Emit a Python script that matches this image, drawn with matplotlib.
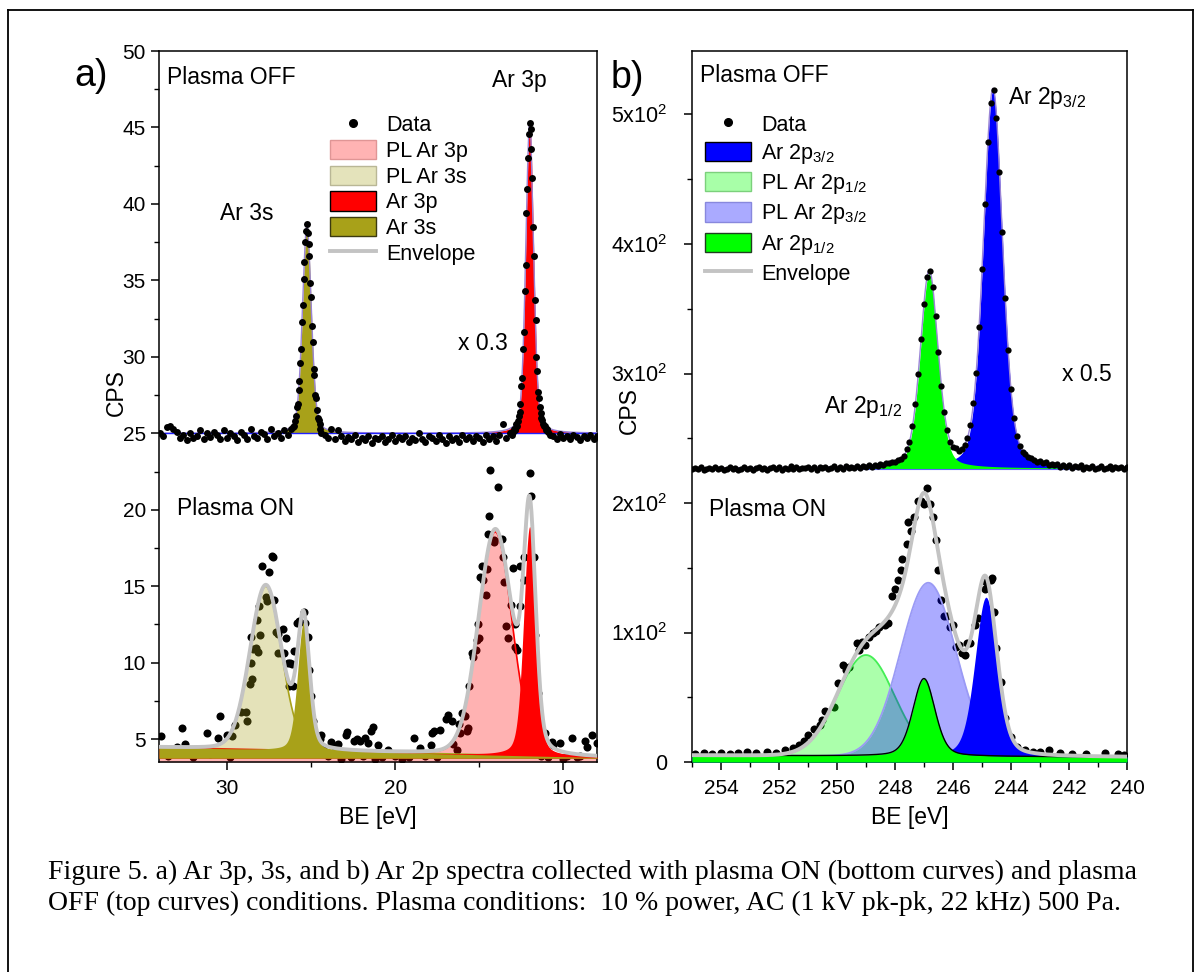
import numpy as np
import matplotlib.pyplot as plt
from matplotlib.lines import Line2D
from matplotlib.patches import Patch
from matplotlib.ticker import MultipleLocator, FixedLocator, FixedFormatter

plt.rcParams['font.family'] = ['Liberation Sans', 'DejaVu Sans']
plt.rcParams['mathtext.fontset'] = 'custom'
plt.rcParams['mathtext.rm'] = 'Liberation Sans'
plt.rcParams['mathtext.it'] = 'Liberation Sans:italic'
plt.rcParams['mathtext.bf'] = 'Liberation Sans:bold'

# ---------------- panel a) Ar 3p / 3s ----------------
# plasma OFF data (BE in eV, CPS shifted / scaled as plotted)
a_off_x1 = np.round(np.arange(8.0, 10.81, 0.2), 2)
a_off_y1 = [24.8, 24.6, 24.9, 24.7, 24.85, 24.55, 24.75, 24.9, 24.65, 24.8,
            24.7, 24.95, 24.6, 24.8, 24.9]
a_off_x2 = np.round(np.arange(10.9, 13.11, 0.05), 2)
a_off_y2 = [25.1, 25.2, 25.3, 25.2, 25.45, 25.5, 25.6, 25.9, 26.0, 26.3,
            26.7, 27.3, 27.7, 29.1, 30.0, 32.4, 33.7, 36.6, 38.5, 41.7,
            43.6, 44.9, 45.3, 44.6, 43.0, 41.0, 39.4, 36.0, 34.3, 31.6,
            30.5, 28.6, 28.1, 26.9, 26.4, 26.1, 25.8, 25.5, 25.6, 25.3,
            25.2, 25.3, 25.1, 24.9, 25.0]
a_off_x3 = np.round(np.arange(13.2, 24.41, 0.2), 2)
a_off_y3 = [25.0, 24.7, 25.6, 24.9, 24.5, 24.8, 24.6, 24.9, 24.4, 24.7,
            24.85, 24.5, 24.75, 24.6, 24.9, 24.4, 24.7, 24.55, 24.8, 24.35,
            24.65, 24.9, 24.5, 24.7, 24.85, 24.45, 24.6, 25.0, 24.55, 24.7,
            24.4, 24.8, 24.6, 24.75, 24.5, 24.9, 24.65, 24.45, 24.8, 24.6,
            24.7, 24.35, 24.85, 24.55, 24.7, 24.45, 24.9, 24.6, 24.75, 24.5,
            24.8, 25.2, 24.65, 25.3, 24.7, 24.9, 25.05]
a_off_x4 = np.round(np.arange(24.45, 26.06, 0.05), 2)
a_off_y4 = [25.3, 25.6, 25.9, 26.0, 26.5, 27.3, 27.5, 28.8, 29.2, 31.0,
            32.0, 33.9, 34.8, 36.6, 37.4, 38.1, 38.7, 38.2, 37.5, 36.2,
            35.1, 33.4, 32.3, 30.5, 29.6, 28.4, 27.8, 26.9, 26.7, 26.1,
            25.8, 25.5, 25.4]
a_off_x5 = np.round(np.arange(26.2, 34.01, 0.2), 2)
a_off_y5 = [25.3, 24.9, 25.2, 24.7, 25.0, 24.8, 25.25, 24.6, 24.95, 25.1,
            24.7, 24.85, 25.3, 24.65, 24.9, 25.1, 24.55, 24.8, 25.0, 24.7,
            25.2, 24.6, 24.9, 25.1, 24.75, 25.0, 24.6, 25.2, 24.85, 24.7,
            25.05, 24.55, 24.9, 24.7, 25.1, 25.3, 25.45, 25.4, 24.8, 25.0]

# plasma ON data
a_on_x = [33.9, 33.5, 33.0, 32.7, 32.5, 32.0, 31.2, 31.0, 30.55, 30.4, 30.2, 30.0,
          29.8, 29.7, 29.5, 29.2, 28.9, 28.8, 28.65, 28.6, 28.55, 28.5, 28.45,
          28.3, 28.2, 28.15, 28.1, 28.05, 27.9, 27.7, 27.65, 27.5, 27.3, 27.25,
          27.2, 27.1, 27.0, 26.95, 26.8, 26.7, 26.6, 26.5, 26.4, 26.3, 26.25,
          26.15, 26.1, 26.0, 25.85, 25.75, 25.45, 25.35, 25.2, 25.1, 25.0, 24.9,
          24.5, 24.4, 24.3, 24.0, 23.8, 23.6, 23.4, 23.2, 22.95, 22.85, 22.6,
          22.45, 22.3, 22.1, 21.9, 21.8, 21.6, 21.45, 21.3, 21.2, 21.0, 20.8,
          20.4, 20.0, 19.6, 19.2, 18.9, 18.5, 18.2, 17.85, 17.8, 17.7, 17.5,
          17.35, 17.0, 16.85, 16.6, 16.55, 16.3, 16.2, 16.15, 16.05, 15.85,
          15.75, 15.7, 15.6, 15.45, 15.4, 15.2, 15.15, 15.1, 15.0, 14.95, 14.85,
          14.8, 14.6, 14.55, 14.5, 14.4, 14.37, 14.15, 14.1, 13.9, 13.65, 13.6,
          13.5, 13.4, 13.3, 13.1, 13.0, 12.9, 12.85, 12.75, 12.6, 12.58, 12.35,
          12.33, 12.0, 11.9, 11.74, 11.7, 11.5, 11.3, 11.1, 10.9, 10.7, 10.6,
          10.2, 10.0, 9.8, 9.5, 9.2, 9.0, 8.7, 8.6, 8.3, 8.0]
a_on_y = [5.2, 3.9, 4.5, 5.7, 4.7, 3.8, 5.4, 4.0, 5.1, 6.5, 4.1, 5.3,
          3.8, 5.2, 5.9, 6.8, 6.8, 6.2, 8.6, 11.7, 10.0, 8.9, 10.9,
          10.95, 12.8, 10.7, 13.7, 11.8, 16.3, 14.3, 14.0, 15.95, 16.95, 16.9,
          14.1, 12.0, 11.9, 10.6, 10.65, 12.2, 10.6, 11.6, 10.0, 8.5, 10.0,
          9.9, 8.5, 10.75, 12.6, 12.7, 13.3, 12.6, 11.7, 9.5, 7.8, 6.2,
          5.0, 5.25, 4.5, 3.9, 4.8, 4.5, 4.7, 3.7, 5.3, 5.45, 3.8,
          4.9, 5.0, 4.85, 3.9, 5.1, 4.75, 5.5, 5.8, 3.7, 4.6, 3.8,
          4.3, 3.9, 3.7, 3.8, 5.1, 4.4, 3.9, 4.6, 5.4, 5.5, 3.8,
          5.6, 6.3, 6.6, 6.2, 4.7, 4.3, 6.0, 5.4, 6.7, 6.5,
          5.5, 5.7, 8.5, 10.6, 10.4, 10.8, 11.5, 12.5, 11.6, 15.6, 16.3,
          15.4, 14.4, 16.1, 18.4, 19.6, 22.6, 18.0, 17.9, 21.5, 18.1, 16.9,
          15.3, 12.4, 11.6, 13.8, 16.2, 11.0, 12.5, 10.8, 16.3, 13.7, 15.4,
          16.9, 22.4, 20.9, 16.9, 11.8, 8.0, 3.9, 5.4, 3.8, 4.8, 4.6,
          4.75, 3.7, 3.9, 5.1, 3.8, 3.9, 4.9, 4.5, 5.3, 4.75]

# fitted components: (centre eV, height, FWHM eV, Lorentzian fraction)
a_off_base = 25.0
a_off_3p = (12.0, 20.3, 0.55, 0.3)
a_off_3s = (25.25, 13.6, 0.62, 0.3)
a_on_base = (3.8, 4.45)          # background at 8 eV and 34 eV
a_on_pl3p = (14.05, 14.6, 2.35, 0.1)
a_on_pl3s = (27.7, 10.7, 2.2, 0.1)
a_on_3p = (12.0, 15.0, 0.85, 0.3)
a_on_3s = (25.45, 8.4, 0.85, 0.3)

# ---------------- panel b) Ar 2p ----------------
b_off_x = np.round(np.linspace(240.0, 255.0, 151), 2)
b_off_y = [227.5, 226.0, 228.2, 226.8, 227.9, 225.9, 228.4, 227.1, 226.3, 228.6,
           227.4, 226.5, 228.8, 227.0, 228.2, 226.6, 229.0, 227.6, 228.5, 226.9,
           229.3, 228.0, 229.6, 228.1, 230.2, 229.0, 230.4, 229.6, 231.8, 231.0,
           232.6, 232.0, 233.5, 234.6, 235.8, 237.5, 239.5, 244.0, 252.0, 265.5,
           288.0, 318.5, 358.0, 409.0, 455.5, 497.0, 519.0, 509.0, 478.5, 431.0,
           381.0, 336.0, 300.5, 277.0, 260.5, 250.0, 245.0, 242.0, 240.5, 242.5,
           243.0, 247.5, 256.5, 270.5, 290.0, 316.5, 344.5, 367.0, 379.0, 374.5,
           353.5, 327.0, 299.5, 276.5, 259.5, 247.0, 241.5, 236.0, 234.0, 233.5,
           232.0, 231.8, 230.6, 230.9, 229.4, 230.0, 228.7, 229.5, 228.0, 229.1,
           227.6, 228.9, 227.3, 228.5, 226.8, 228.2, 227.0, 228.6, 226.6, 227.9,
           226.4, 228.3, 227.1, 226.2, 228.0, 226.9, 227.7, 225.8, 227.5, 226.4,
           228.1, 226.7, 227.3, 225.9, 227.8, 226.5, 228.4, 226.1, 227.2, 225.7,
           227.6, 226.3, 228.0, 226.8, 225.6, 227.4, 226.2, 228.1, 226.7, 225.8,
           227.3, 226.0, 227.9, 226.4, 225.5, 227.2, 226.1, 228.0, 226.6, 225.7,
           227.0, 226.2, 227.8, 225.9, 227.1, 226.4, 225.6, 227.5, 226.3, 227.2,
           226.0]

b_on_x = [254.9, 254.6, 254.3, 254.0, 253.7, 253.4, 253.1, 252.8, 252.4, 252.1,
          251.8, 251.5, 251.3, 251.15, 251.0, 250.8, 250.6, 250.5, 250.4, 250.1,
          249.95, 249.8, 249.7, 249.6, 249.3, 249.25, 249.15, 249.05, 248.9, 248.75,
          248.65, 248.55, 248.35, 248.25, 248.1, 248.0, 247.9, 247.8, 247.75, 247.6,
          247.55, 247.45, 247.35, 247.2, 247.1, 247.0, 246.9, 246.8, 246.7, 246.6,
          246.5, 246.4, 246.3, 246.2, 246.1, 246.0, 245.9, 245.8, 245.7, 245.6,
          245.5, 245.4, 245.25, 245.15, 244.9, 244.85, 244.7, 244.65, 244.6, 244.5,
          244.35, 244.2, 244.0, 243.8, 243.5, 243.25, 243.0, 242.7, 242.3, 241.9,
          241.4, 240.75, 240.3, 240.1]
b_on_y = [6, 7, 6, 7, 6, 7, 8, 7, 8, 7,
          9, 11, 13, 16.5, 21, 25.5, 28.6, 32.4, 39.6, 42.5,
          61, 75, 71, 73.6, 92, 86.5, 93, 90, 96.8, 99.5,
          101, 104, 105.5, 107, 128, 133.6, 140.5, 148, 156.4, 168.3,
          185.5, 178.6, 189, 201.8, 201.8, 199, 211.3, 199, 189, 171.4,
          148, 125, 113, 113, 104.5, 106, 89, 90.6, 84.4, 82.8,
          91.9, 91.9, 105.8, 111, 134, 139, 140.5, 142, 116, 87.8,
          62, 34, 19, 12, 9, 8, 8, 9.3, 7, 6.5,
          6, 7, 6.5, 5.5]

b_off_base = 227.0
b_off_32 = (244.62, 292.0, 0.78, 0.3)
b_off_12 = (246.82, 150.0, 0.72, 0.3)
b_on_base = (3.8, 5.2)           # background at 240 eV and 255 eV
b_on_32 = (244.86, 123.0, 0.9, 0.3)
b_on_12 = (247.0, 60.0, 0.9, 0.3)
b_on_pl32 = (246.85, 134.0, 2.25, 0.0)
b_on_pl12 = (249.0, 78.0, 2.3, 0.0)

b_yticks = [0, 100, 200, 300, 400, 500]
b_ylabels = ['0', r'1x10$^{2}$', r'2x10$^{2}$', r'3x10$^{2}$', r'4x10$^{2}$', r'5x10$^{2}$']

OLIVE = '#a8a119'
GREY = '#c3c3c3'
FIT = '#9a84d6'
FS = 16.5     # annotation text
TS = 15       # tick labels
LS = 15.5     # legend


def peak(x, p):
    c, h, w, eta = p
    d = (x - c) / w
    return h * (eta / (1 + 4 * d ** 2) + (1 - eta) * np.exp(-4 * np.log(2) * d ** 2))


fig = plt.figure(figsize=(11.98, 9.72), dpi=100)

# outer frame of the figure box
for xs, ys in [([0.0067, 0.0067], [0.0, 0.9897]), ([0.0067, 0.996], [0.9897, 0.9897]),
               ([0.996, 0.996], [0.9897, 0.0])]:
    fig.add_artist(Line2D(xs, ys, transform=fig.transFigure, color='k', lw=1.3))

# ---- axes a
ax = fig.add_axes([0.1327, 0.216, 0.3656, 0.7315])
xa = np.linspace(8.0, 34.05, 2500)
bg = np.interp(xa, [8.0, 34.05], list(a_on_base))

ax.plot(a_on_x, a_on_y, 'o', color='k', ms=5.8, mew=0, zorder=1)
c_pl3p = bg + peak(xa, a_on_pl3p)
c_pl3s = bg + peak(xa, a_on_pl3s)
c_3p = bg + peak(xa, a_on_3p)
c_3s = bg + peak(xa, a_on_3s)
ax.fill_between(xa, 3.5, c_pl3p, color='red', alpha=0.3, lw=0, zorder=2)
ax.plot(xa, c_pl3p, color='red', lw=1.2, zorder=2)
ax.fill_between(xa, 3.75, c_pl3s, color=OLIVE, alpha=0.3, lw=0, zorder=2)
ax.plot(xa, c_pl3s, color=OLIVE, lw=1.2, zorder=2)
ax.fill_between(xa, 3.75, c_3p, color='red', lw=0, zorder=3)
ax.fill_between(xa, 3.75, c_3s, color=OLIVE, lw=0, zorder=3)
env = bg + peak(xa, a_on_pl3p) + peak(xa, a_on_pl3s) + peak(xa, a_on_3p) + peak(xa, a_on_3s)
ax.plot(xa, env, color=GREY, lw=2.8, zorder=4)

off_3p = a_off_base + peak(xa, a_off_3p)
off_3s = a_off_base + peak(xa, a_off_3s)
ax.fill_between(xa, a_off_base, off_3p, color='red', lw=0, zorder=3)
ax.fill_between(xa, a_off_base, off_3s, color=OLIVE, lw=0, zorder=3)
ax.plot(xa, a_off_base + peak(xa, a_off_3p) + peak(xa, a_off_3s), color=FIT, lw=1.0, zorder=4)
ax.axhline(a_off_base, color='#2020ff', lw=1.0, zorder=4)
for xs, ys in [(a_off_x1, a_off_y1), (a_off_x2, a_off_y2), (a_off_x3, a_off_y3),
               (a_off_x4, a_off_y4), (a_off_x5, a_off_y5)]:
    ax.plot(xs, ys, 'o', color='k', ms=5, mew=0, zorder=5)

ax.set_xlim(34.05, 8.0)
ax.set_ylim(3.5, 50)
ax.xaxis.set_major_locator(MultipleLocator(10))
ax.xaxis.set_minor_locator(MultipleLocator(5))
ax.yaxis.set_major_locator(MultipleLocator(5))
ax.yaxis.set_minor_locator(MultipleLocator(2.5))
ax.set_xlabel('BE [eV]', fontsize=FS, labelpad=6)
ax.set_ylabel('CPS', fontsize=FS)
ax.yaxis.set_label_coords(-0.072, 0.52)

ax.text(33.6, 48.3, 'Plasma OFF', fontsize=FS, va='center')
ax.text(33.0, 20.1, 'Plasma ON', fontsize=FS, va='center')
ax.text(12.6, 48.1, 'Ar 3p', fontsize=FS, ha='center', va='center')
ax.text(28.8, 39.4, 'Ar 3s', fontsize=FS, ha='center', va='center')
ax.text(14.8, 30.9, 'x 0.3', fontsize=FS, ha='center', va='center')
fig.text(0.062, 0.922, 'a)', fontsize=27, va='center')

hl = [Line2D([], [], marker='o', ls='none', color='k', ms=5.5, label='Data'),
      Patch(facecolor='#ffb3b3', edgecolor='#e09595', label='PL Ar 3p'),
      Patch(facecolor='#e4e3bb', edgecolor='#b9b796', label='PL Ar 3s'),
      Patch(facecolor='red', edgecolor='k', label='Ar 3p'),
      Patch(facecolor=OLIVE, edgecolor='#3c3a10', label='Ar 3s'),
      Line2D([], [], color=GREY, lw=2.8, label='Envelope')]
ax.legend(handles=hl, loc='upper left', bbox_to_anchor=(0.39, 0.911), frameon=False,
          fontsize=LS, handlelength=2.15, handleheight=1.0, labelspacing=0.17,
          handletextpad=0.45, borderaxespad=0, borderpad=0)

# ---- axes b
bx = fig.add_axes([0.5776, 0.216, 0.3631, 0.7315])
xb = np.linspace(240.0, 255.0, 2500)
bgb = np.interp(xb, [240.0, 255.0], list(b_on_base))

bx.plot(b_on_x, b_on_y, 'o', color='k', ms=5.8, mew=0, zorder=1)
c_pl12 = bgb + peak(xb, b_on_pl12)
c_pl32 = bgb + peak(xb, b_on_pl32)
c_32 = bgb + peak(xb, b_on_32)
c_12 = bgb + peak(xb, b_on_12)
bx.fill_between(xb, 0, c_pl12, color='#00ff00', alpha=0.33, lw=0, zorder=2)
bx.plot(xb, c_pl12, color='#44ee55', lw=1.3, zorder=2)
bx.fill_between(xb, 0, c_pl32, color='#0000ff', alpha=0.33, lw=0, zorder=2)
bx.plot(xb, c_pl32, color='#9a9af5', lw=1.3, zorder=2)
bx.fill_between(xb, 0, c_32, color='#0000ff', lw=0, zorder=3)
bx.fill_between(xb, 0, c_12, color='#00ff00', lw=0, zorder=3)
bx.plot(xb, c_12, color='k', lw=1.0, zorder=3)
envb = bgb + peak(xb, b_on_pl12) + peak(xb, b_on_pl32) + peak(xb, b_on_32) + peak(xb, b_on_12)
bx.plot(xb, envb, color=GREY, lw=2.8, zorder=4)

off_32 = b_off_base + peak(xb, b_off_32)
off_12 = b_off_base + peak(xb, b_off_12)
bx.fill_between(xb, b_off_base - 1, off_32, color='#0000ff', lw=0, zorder=3)
bx.fill_between(xb, b_off_base - 1, off_12, color='#00ff00', lw=0, zorder=3)
bx.plot(xb, b_off_base + peak(xb, b_off_32) + peak(xb, b_off_12), color=FIT, lw=1.0, zorder=4)
bx.axhline(b_off_base - 1, color='#6060ff', lw=0.8, zorder=4)
bx.plot(b_off_x, b_off_y, 'o', color='k', ms=4.5, mew=0, zorder=5)

bx.set_xlim(255, 240)
bx.set_ylim(0, 549)
bx.xaxis.set_major_locator(MultipleLocator(2))
bx.xaxis.set_minor_locator(MultipleLocator(1))
bx.yaxis.set_major_locator(FixedLocator(b_yticks))
bx.yaxis.set_major_formatter(FixedFormatter(b_ylabels))
bx.yaxis.set_minor_locator(MultipleLocator(50))
bx.set_xlabel('BE [eV]', fontsize=FS, labelpad=6)
bx.set_ylabel('CPS', fontsize=FS)
bx.yaxis.set_label_coords(-0.118, 0.495)

bx.text(254.73, 530, 'Plasma OFF', fontsize=FS, va='center')
bx.text(254.42, 195, 'Plasma ON', fontsize=FS, va='center')
bx.text(244.09, 513, r'Ar 2p$_{3/2}$', fontsize=FS, va='center')
bx.text(250.46, 274, r'Ar 2p$_{1/2}$', fontsize=FS, va='center')
bx.text(241.38, 299, 'x 0.5', fontsize=FS, ha='center', va='center')
fig.text(0.51, 0.92, 'b)', fontsize=27, va='center')

hb = [Line2D([], [], marker='o', ls='none', color='k', ms=5.5, label='Data'),
      Patch(facecolor='#0000ff', edgecolor='k', label=r'Ar 2p$_{3/2}$'),
      Patch(facecolor='#a8ffa8', edgecolor='#7cd07c', label=r'PL Ar 2p$_{1/2}$'),
      Patch(facecolor='#aaaaff', edgecolor='#8888dd', label=r'PL Ar 2p$_{3/2}$'),
      Patch(facecolor='#00ff00', edgecolor='#204020', label=r'Ar 2p$_{1/2}$'),
      Line2D([], [], color=GREY, lw=2.8, label='Envelope')]
bx.legend(handles=hb, loc='upper left', bbox_to_anchor=(0.03, 0.912), frameon=False,
          fontsize=LS, handlelength=2.15, handleheight=1.0, labelspacing=0.29,
          handletextpad=0.45, borderaxespad=0, borderpad=0)

for a in (ax, bx):
    for s in a.spines.values():
        s.set_linewidth(1.1)
    a.tick_params(which='major', direction='out', length=6, width=1.1, labelsize=TS)
    a.tick_params(which='minor', direction='out', length=3.5, width=1.0)
    a.tick_params(axis='x', which='major', pad=6)
bx.tick_params(axis='y', which='major', pad=12, labelsize=15.5)

cap = dict(fontsize=20, family=['Liberation Serif', 'DejaVu Serif'], va='center')
fig.text(0.04, 0.102, 'Figure 5. a) Ar 3p, 3s, and b) Ar 2p spectra collected with plasma ON '
         '(bottom curves) and plasma', **cap)
fig.text(0.04, 0.071, 'OFF (top curves) conditions. Plasma conditions:  10 % power, AC '
         '(1 kV pk-pk, 22 kHz) 500 Pa.', **cap)

fig.savefig('out.png', dpi=100)
